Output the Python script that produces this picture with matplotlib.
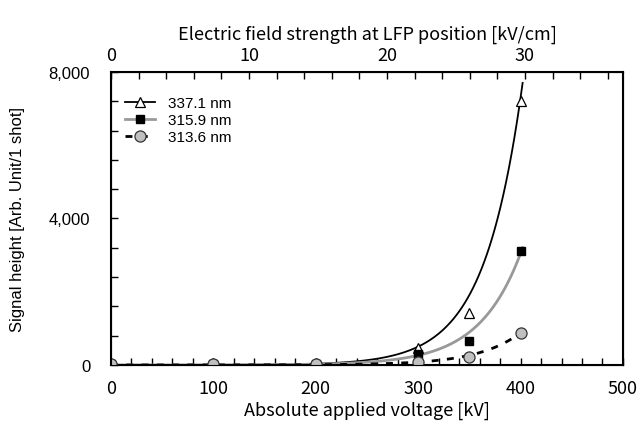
import numpy as np
import matplotlib
matplotlib.use("Agg")
import matplotlib.pyplot as plt
from matplotlib.ticker import MultipleLocator, FuncFormatter

# measured signal heights vs absolute applied voltage
voltage = [0, 100, 200, 300, 350, 400]
sig_337 = [60, 50, 50, 470, 1430, 7200]
sig_315 = [40, 30, 30, 300, 660, 3100]
sig_313 = [20, 20, 20, 80, 220, 880]
labels = ["337.1 nm", "315.9 nm", "313.6 nm"]

# exponential trend lines: value at 400 kV and growth rate
fit_end = [7300, 3050, 880]
fit_rate = [0.0268, 0.0245, 0.0240]
fit_stop = 402

kv_per_cm_per_kv = 0.0742  # field at LFP position per kV applied

plt.rcParams['font.family'] = ['Liberation Sans', 'DejaVu Sans']
jp = ['Noto Sans CJK JP', 'DejaVu Sans']

fig = plt.figure(figsize=(6.4, 4.27), dpi=100)
ax = fig.add_axes([0.1734, 0.1429, 0.8, 0.6861])

xf = np.linspace(0, fit_stop, 300)
styles = [
    dict(color='black', lw=1.3, ls='-'),
    dict(color='#999999', lw=2.0, ls='-'),
    dict(color='black', lw=2.0, ls=(0, (2.5, 3))),
]
markers = [
    dict(marker='^', mfc='white', mec='black', ms=7, mew=0.9),
    dict(marker='s', mfc='black', mec='black', ms=6),
    dict(marker='o', mfc='#c0c0c0', mec='#333333', ms=8, mew=0.9),
]
series = [sig_337, sig_315, sig_313]
for i in range(3):
    yf = fit_end[i] * np.exp(fit_rate[i] * (xf - 400))
    ax.plot(xf, yf, zorder=2, **styles[i])
    ax.plot(voltage, series[i], ls='none', zorder=3, **markers[i])

# legend proxies: line through marker
handles = [plt.Line2D([], [], **styles[i], **markers[i]) for i in range(3)]
ax.legend(handles, labels, loc='upper left', bbox_to_anchor=(0.0, 0.965),
          frameon=False, fontsize=11, handlelength=2.0, handletextpad=0.8,
          labelspacing=0.2)

ax.set_xlim(0, 500)
ax.set_ylim(0, 8000)
ax.xaxis.set_major_locator(MultipleLocator(100))
ax.xaxis.set_minor_locator(MultipleLocator(20))
ax.yaxis.set_major_locator(MultipleLocator(4000))
ax.yaxis.set_minor_locator(MultipleLocator(800))
ax.yaxis.set_major_formatter(FuncFormatter(lambda v, p: f"{int(v):,}"))
ax.tick_params(which='both', direction='in', length=5, width=1, top=False, right=False)
ax.tick_params(axis='y', labelsize=12, pad=15)
ax.tick_params(axis='x', labelsize=13, pad=10)
for lab in ax.get_xticklabels():
    lab.set_family(jp)
for sp in ax.spines.values():
    sp.set_linewidth(1.5)

ax.set_xlabel("Absolute applied voltage [kV]", family=jp, fontsize=13, labelpad=3)
ax.set_ylabel("Signal height [Arb. Unit/1 shot]", fontsize=12, labelpad=17)

top = ax.twiny()
top.set_xlim(0, 500 * kv_per_cm_per_kv)
top.xaxis.set_major_locator(MultipleLocator(10))
top.xaxis.set_minor_locator(MultipleLocator(2))
top.tick_params(which='both', direction='in', length=5, width=1, labelsize=13, pad=6)
for lab in top.get_xticklabels():
    lab.set_family(jp)
top.set_xlabel("Electric field strength at LFP position [kV/cm]", family=jp,
               fontsize=13, labelpad=5)

fig.savefig("out.png", dpi=100)
